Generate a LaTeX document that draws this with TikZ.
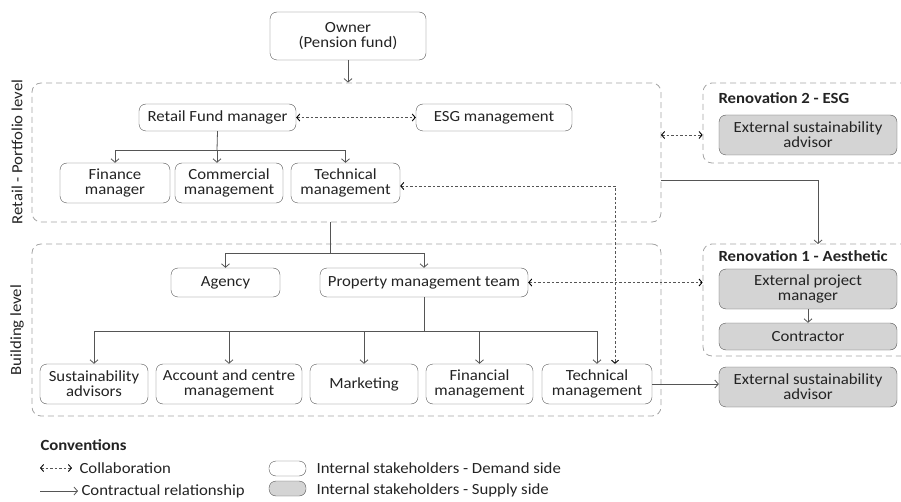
\documentclass[tikz,border=0pt]{standalone}
\usepackage{fontspec}
\setmainfont[FakeStretch=1.08]{Carlito}
\usetikzlibrary{positioning,shapes,arrows.meta}

\definecolor{txtgray}{RGB}{35,35,35}
\definecolor{linegray}{RGB}{85,85,85}
\definecolor{zonegray}{RGB}{165,165,165}
\definecolor{supfill}{RGB}{212,212,212}

\begin{document}
\begin{tikzpicture}[
	x=1pt, y=-1pt,
	every node/.style={font=\fontsize{15.5}{15}\selectfont, text=txtgray},
	>={Straight Barb[length=3.5pt,width=8pt]},
	stake/.style={draw=linegray, rectangle, rounded corners=7pt, align=center, inner sep=0pt},
	supply/.style={stake, fill=supfill},
	zone/.style={draw=zonegray, dash pattern=on 6pt off 4pt, line width=0.8pt, rounded corners=9pt, inner sep=0pt},
	link/.style={draw=linegray, line width=0.8pt},
	collab/.style={draw=linegray, line width=0.9pt, dash pattern=on 2.5pt off 2pt, {Straight Barb[length=3pt,width=7pt,black]}-{Straight Barb[length=3pt,width=7pt,black]}}
	]
	\clip (0,0) rectangle (901,502);

	% levels
	\node[zone, minimum width=629, minimum height=139] (portf) at (346.5,152.5) {};
	\node[zone, minimum width=629, minimum height=172] (bldg) at (346.5,330) {};
	\node[zone, minimum width=212, minimum height=80] (ren2) at (809,123) {};
	\node[zone, minimum width=212, minimum height=112] (ren1) at (809,300) {};
	\node[rotate=90] (lblport) at (17,152) {Retail - Portfolio level};
	\node[rotate=90] (lblbld) at (17,330) {Building level};
	\node[anchor=west, font=\fontsize{15.5}{15}\selectfont\bfseries] (ren2t) at (715,98) {Renovation 2 - ESG};
	\node[anchor=west, font=\fontsize{15.5}{15}\selectfont\bfseries] (ren1t) at (715,256) {Renovation 1 - Aesthetic};

	% stakeholders
	\node[stake, minimum width=156, minimum height=48] (owner) at (348,36) {Owner\\(Pension fund)};
	\node[stake, minimum width=157, minimum height=27] (rfm) at (217.5,117.5) {Retail Fund manager};
	\node[stake, minimum width=156, minimum height=27] (esg) at (494,117.5) {ESG management};
	\node[stake, minimum width=110, minimum height=40] (fin) at (115,183) {Finance\\manager};
	\node[stake, minimum width=108, minimum height=40] (com) at (229,183) {Commercial\\management};
	\node[stake, minimum width=109, minimum height=40] (tec) at (345.5,183) {Technical\\management};

	\node[stake, minimum width=109, minimum height=29] (agency) at (225.5,282.5) {Agency};
	\node[stake, minimum width=208, minimum height=29] (pmt) at (424,282.5) {Property management team};
	\node[stake, minimum width=108, minimum height=40] (sus) at (94,384) {Sustainability\\advisors};
	\node[stake, minimum width=146, minimum height=40] (acc) at (229,384) {Account and centre\\management};
	\node[stake, minimum width=108, minimum height=40] (mkt) at (364,384) {Marketing};
	\node[stake, minimum width=107, minimum height=40] (finm) at (479.5,384) {Financial\\management};
	\node[stake, minimum width=110, minimum height=40] (tecm) at (597,384) {Technical\\management};

	\node[supply, minimum width=178, minimum height=40] (esa2) at (808,135) {External sustainability\\advisor};
	\node[supply, minimum width=178, minimum height=40] (epm) at (808,289) {External project\\manager};
	\node[supply, minimum width=178, minimum height=27] (con) at (808,336.5) {Contractor};
	\node[supply, minimum width=178, minimum height=40] (esa1) at (808,387) {External sustainability\\advisor};

	% junctions
	\coordinate (rj) at (217,150);
	\coordinate (bj) at (330,253);
	\coordinate (pj) at (424,331);
	\coordinate (tk) at (615,186);
	\coordinate (r2a) at (661,135);
	\coordinate (r1a) at (661,180);
	\coordinate (r1b) at (818,244);

	% contractual
	\draw[link, ->] (owner.south) -- (owner.south |- portf.north);
	\draw[link] (rfm.south) -- (rj);
	\draw[link, ->] (rj) -| (fin.north);
	\draw[link, ->] (rj) -- (rj |- com.north);
	\draw[link, ->] (rj) -| (tec.north);
	\draw[link] (bj |- portf.south) -- (bj);
	\draw[link, ->] (bj) -| (agency.north);
	\draw[link, ->] (bj) -| (pmt.north);
	\draw[link] (pmt.south) -- (pj);
	\draw[link, ->] (pj) -| (sus.north);
	\draw[link, ->] (pj) -| (acc.north);
	\draw[link, ->] (pj) -| (mkt.north);
	\draw[link, ->] (pj) -| (finm.north);
	\draw[link, ->] (pj) -| (tecm.north);
	\draw[link, ->] (r1a) -| (r1b);
	\draw[link, ->] (epm) -- (con);
	\draw[link, ->] (tecm.east) -- (esa1.west |- tecm.east);

	% collaboration
	\draw[collab] (rfm) -- (esg);
	\draw[collab] (r2a) -- (ren2.west |- r2a);
	\draw[collab] (pmt) -- (ren1.west |- pmt);
	\draw[collab] (tec.east |- tk) -| (tecm.north -| tk);

	% conventions
	\node[anchor=west, font=\fontsize{15.5}{15}\selectfont\bfseries] (conv) at (37,445) {Conventions};
	\coordinate (lc1a) at (40,468);
	\coordinate (lc1b) at (72,468);
	\coordinate (lc2a) at (40,491);
	\coordinate (lc2b) at (78,491);
	\draw[collab] (lc1a) -- (lc1b);
	\draw[link, ->] (lc2a) -- (lc2b);
	\node[anchor=west] (lcol) at (76,468) {Collaboration};
	\node[anchor=west] (lcon) at (78,491) {Contractual relationship};
	\node[stake, rounded corners=7pt, minimum width=37, minimum height=15] (ldem) at (287.5,468.5) {};
	\node[supply, rounded corners=7pt, minimum width=37, minimum height=15] (lsup) at (287.5,488.5) {};
	\node[anchor=west] (ldemt) at (313,468) {Internal stakeholders - Demand side};
	\node[anchor=west] (lsupt) at (313,490) {Internal stakeholders - Supply side};
\end{tikzpicture}
\end{document}
